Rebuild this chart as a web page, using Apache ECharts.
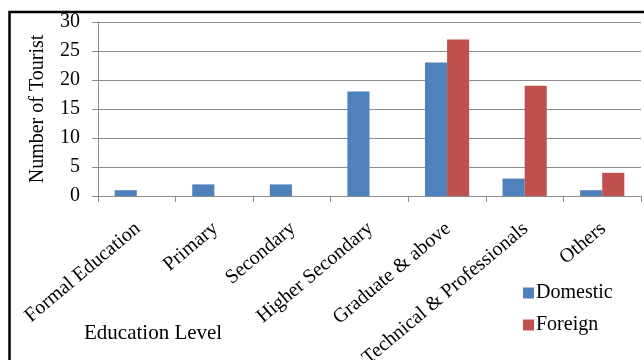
<!DOCTYPE html>
<html>
<head>
<meta charset="utf-8">
<script src="https://cdn.jsdelivr.net/npm/echarts@6/dist/echarts.min.js"></script>
<style>
  html, body { margin: 0; padding: 0; background: #fff; }
  #chart { width: 644px; height: 360px; }
</style>
</head>
<body>
<div id="chart"></div>
<script>
// Education level of surveyed tourists
const categories = ['Formal Education', 'Primary', 'Secondary', 'Higher Secondary',
                    'Graduate & above', 'Technical & Professionals', 'Others'];
const domestic = [1, 2, 2, 18, 23, 3, 1];
const foreign = [0, 0, 0, 0, 27, 19, 4];
const yTicks = [0, 5, 10, 15, 20, 25, 30];

const serif = '"Liberation Serif", "Times New Roman", serif';
const gridGray = '#8c8c8c';

const chart = echarts.init(document.getElementById('chart'));
chart.setOption({
  backgroundColor: '#fff',
  animation: false,
  textStyle: { fontFamily: serif, color: '#000' },
  grid: { left: 98, top: 22, right: 3, bottom: 164, containLabel: false, outerBoundsMode: 'none' },
  legend: {
    orient: 'vertical',
    left: 518,
    top: 278,
    itemWidth: 11,
    itemHeight: 11,
    itemGap: 12,
    icon: 'rect',
    textStyle: { fontFamily: serif, fontSize: 20, color: '#000', padding: [0, 0, 0, -3] },
    data: ['Domestic', 'Foreign']
  },
  xAxis: {
    type: 'category',
    data: categories,
    axisLine: { lineStyle: { color: gridGray, width: 1 } },
    axisTick: { show: true, alignWithLabel: false, length: 6, lineStyle: { color: gridGray } },
    axisLabel: {
      interval: 0,
      rotate: 40,
      margin: 18,
      align: 'right',
      verticalAlign: 'top',
      padding: [0, 7, 0, 0],
      fontFamily: serif,
      fontSize: 20,
      color: '#000'
    }
  },
  yAxis: {
    type: 'value',
    min: yTicks[0],
    max: yTicks[yTicks.length - 1],
    interval: 5,
    name: 'Number of Tourist',
    nameLocation: 'middle',
    nameGap: 50,
    nameTextStyle: { fontFamily: serif, fontSize: 20, color: '#000' },
    axisLine: { show: true, lineStyle: { color: gridGray, width: 1 } },
    axisTick: { show: true, length: 6, lineStyle: { color: gridGray } },
    axisLabel: { margin: 18, fontFamily: serif, fontSize: 20, color: '#000' },
    splitLine: { lineStyle: { color: gridGray, width: 1 } }
  },
  graphic: [
    {
      type: 'rect',
      shape: { x: 9.5, y: 12, width: 700, height: 400 },
      style: { fill: 'none', stroke: '#000', lineWidth: 2.5 },
      silent: true,
      z: 100
    },
    {
      type: 'text',
      left: 84,
      top: 323,
      style: { text: 'Education Level', fontFamily: serif, fontSize: 21, fill: '#000' }
    }
  ],
  series: [
    {
      name: 'Domestic',
      type: 'bar',
      data: domestic,
      barGap: '0%',
      barCategoryGap: '43%',
      itemStyle: { color: '#4f81bd' }
    },
    {
      name: 'Foreign',
      type: 'bar',
      data: foreign,
      itemStyle: { color: '#c0504d' }
    }
  ]
});
</script>
</body>
</html>
